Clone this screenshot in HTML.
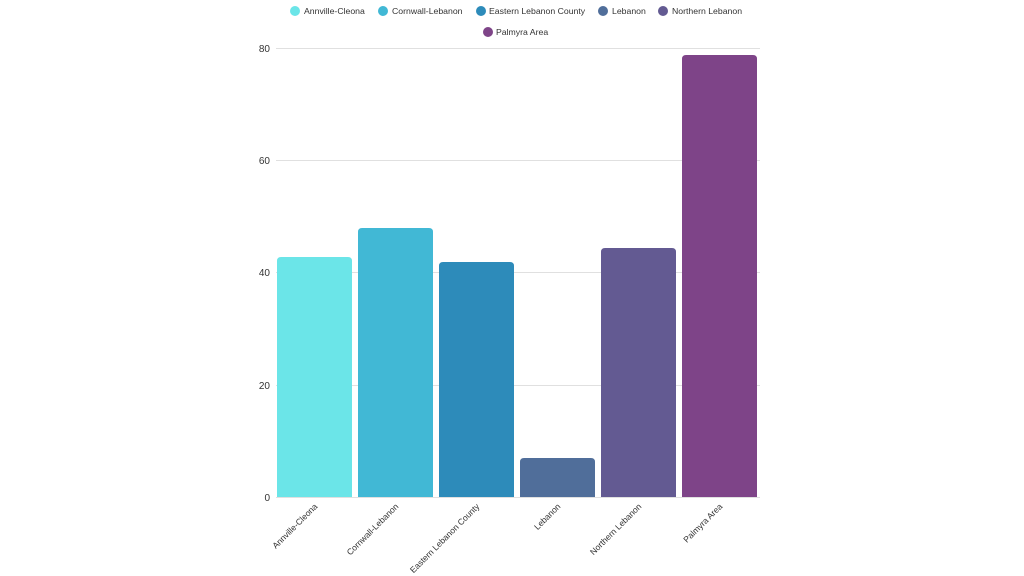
<!DOCTYPE html>
<html><head><style>
html,body{margin:0;padding:0;background:#fff;}
svg{display:block;font-family:"Liberation Sans",sans-serif;}
</style></head><body>
<svg width="1024" height="576" xmlns="http://www.w3.org/2000/svg">
<g stroke="#e0e0e0" stroke-width="1">
<line x1="276" y1="48.5" x2="760" y2="48.5"/>
<line x1="276" y1="160.5" x2="760" y2="160.5"/>
<line x1="276" y1="272.5" x2="760" y2="272.5"/>
<line x1="276" y1="385.5" x2="760" y2="385.5"/>
<line x1="276" y1="497.5" x2="760" y2="497.5"/>
</g>
<g font-size="10" fill="#333" text-anchor="end">
<text x="270" y="52">80</text>
<text x="270" y="164">60</text>
<text x="270" y="276">40</text>
<text x="270" y="389">20</text>
<text x="270" y="501">0</text>
</g>
<path d="M277,497 V261 q0,-4 4,-4 h67 q4,0 4,4 V497Z" fill="#6be5e8"/>
<path d="M358,497 V232 q0,-4 4,-4 h67 q4,0 4,4 V497Z" fill="#41b8d5"/>
<path d="M439,497 V266 q0,-4 4,-4 h67 q4,0 4,4 V497Z" fill="#2d8bba"/>
<path d="M520,497 V462 q0,-4 4,-4 h67 q4,0 4,4 V497Z" fill="#506e9a"/>
<path d="M601,497 V252 q0,-4 4,-4 h67 q4,0 4,4 V497Z" fill="#635a92"/>
<path d="M682,497 V59 q0,-4 4,-4 h67 q4,0 4,4 V497Z" fill="#7e4488"/>
<g font-size="8.5" fill="#333" text-anchor="end">
<text transform="translate(318,507) rotate(-45)">Annville-Cleona</text>
<text transform="translate(399,507) rotate(-45)">Cornwall-Lebanon</text>
<text transform="translate(480,507) rotate(-45)">Eastern Lebanon County</text>
<text transform="translate(561,507) rotate(-45)">Lebanon</text>
<text transform="translate(642,507) rotate(-45)">Northern Lebanon</text>
<text transform="translate(723,507) rotate(-45)">Palmyra Area</text>
</g>
<g font-size="8.7" fill="#333">
<circle cx="295" cy="11" r="5" fill="#6be5e8"/><text x="304" y="14">Annville-Cleona</text>
<circle cx="383" cy="11" r="5" fill="#41b8d5"/><text x="392" y="14">Cornwall-Lebanon</text>
<circle cx="481" cy="11" r="5" fill="#2d8bba"/><text x="489" y="14">Eastern Lebanon County</text>
<circle cx="603" cy="11" r="5" fill="#506e9a"/><text x="612" y="14">Lebanon</text>
<circle cx="663" cy="11" r="5" fill="#635a92"/><text x="672" y="14">Northern Lebanon</text>
<circle cx="488" cy="32" r="5" fill="#7e4488"/><text x="496" y="35">Palmyra Area</text>
</g>
</svg>
</body></html>
